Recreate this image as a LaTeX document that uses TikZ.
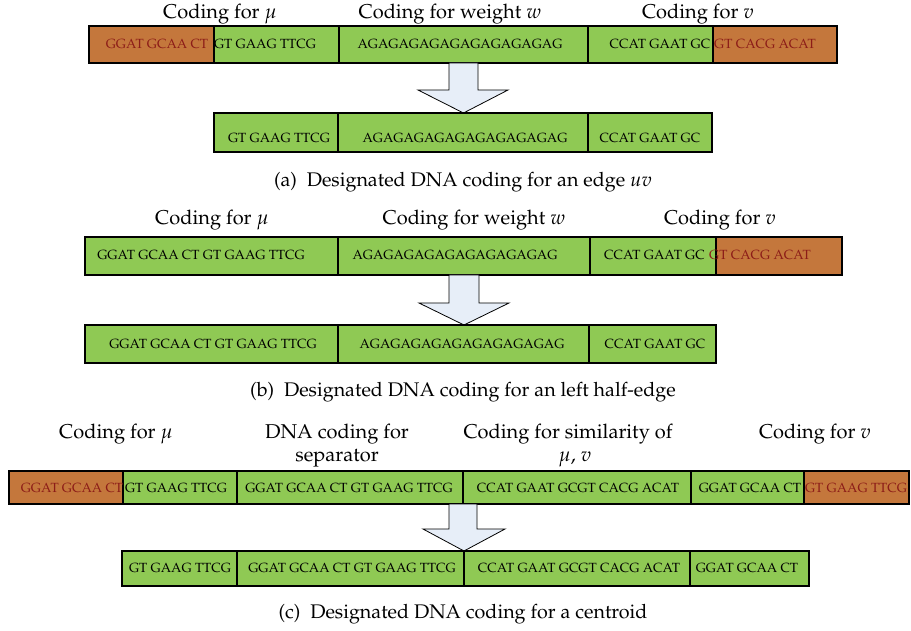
\documentclass[tikz,border=0pt]{standalone}
\usepackage[T1]{fontenc}
\usepackage{mathpazo}
\definecolor{segGreen}{RGB}{143,201,84}
\definecolor{segBrown}{RGB}{196,119,60}
\definecolor{segRed}{RGB}{140,28,24}
\definecolor{arrowFill}{RGB}{231,238,248}
\tikzset{
  seg/.style={draw=black, line width=1.1pt, inner sep=0pt, outer sep=0pt},
  gseg/.style={seg, fill=segGreen},
  bseg/.style={seg, fill=segBrown},
  seqtxt/.style={inner sep=0pt, font=\fontsize{13.3}{15}\selectfont, text=black},
  redtxt/.style={seqtxt, text=segRed},
  lbl/.style={inner sep=0pt, anchor=base, font=\fontsize{20}{23}\selectfont, align=center},
  captxt/.style={inner sep=0pt, anchor=base, font=\fontsize{19.7}{23}\selectfont},
  blockarrow/.style={draw=black, line width=0.8pt, fill=arrowFill, line join=miter}
}
\newcommand{\segbox}[7]{%
  \node[#1, minimum width={#4-#3}, minimum height={#6-#5}] (#2) at ({(#3+#4)/2},{(#5+#6)/2}) {};}
\begin{document}
\begin{tikzpicture}[x=1pt,y=-1pt]
\useasboundingbox (0,0) rectangle (911,631);

% ---------------- (a) ----------------
\node[lbl] (la1) at (220,18.5) {Coding for $\mu$};
\node[lbl] (la2) at (450,18.5) {Coding for weight $w$};
\node[lbl] (la3) at (698,18.5) {Coding for $v$};

\segbox{gseg}{a2}{214}{339}{26}{63}{}
\segbox{gseg}{a3}{339}{588}{26}{63}{}
\segbox{gseg}{a4}{588}{713}{26}{63}{}
\segbox{bseg}{a1}{89}{214}{26}{63}{}
\segbox{bseg}{a5}{713}{837}{26}{63}{}
\node[redtxt] (ta1) at (157,44.5) {GGAT GCAA CT};
\node[seqtxt] (ta2) at (265,44.5) {GT GAAG TTCG};
\node[seqtxt] (ta3) at (460,44.5) {AGAGAGAGAGAGAGAGAGAG};
\node[seqtxt] (ta4) at (660,44.5) {CCAT GAAT GC};
\node[redtxt] (ta5) at (765,44.5) {GT CACG ACAT};

\draw[blockarrow] (449,63) -- (478,63) -- (478,90) -- (508,90) -- (463.5,113) -- (418,90) -- (449,90) -- cycle;

\segbox{gseg}{a6}{214}{338}{113}{152}{}
\segbox{gseg}{a7}{338}{588}{113}{152}{}
\segbox{gseg}{a8}{588}{712}{113}{152}{}
\node[seqtxt] (ta6) at (279,138) {GT GAAG TTCG};
\node[seqtxt] (ta7) at (465,138) {AGAGAGAGAGAGAGAGAGAG};
\node[seqtxt] (ta8) at (650,138) {CCAT GAAT GC};

\node[captxt] (capa) at (463,187) {(a)\enspace Designated DNA coding for an edge $uv$};

% ---------------- (b) ----------------
\node[lbl] (lb1) at (212,225) {Coding for $\mu$};
\node[lbl] (lb2) at (474,225) {Coding for weight $w$};
\node[lbl] (lb3) at (720,225) {Coding for $v$};

\segbox{gseg}{b1}{85}{338}{237}{275}{}
\segbox{gseg}{b2}{338}{590}{237}{275}{}
\segbox{gseg}{b3}{590}{716}{237}{275}{}
\segbox{bseg}{b4}{716}{842}{237}{275}{}
\node[seqtxt] (tb1) at (201,255.5) {GGAT GCAA CT GT GAAG TTCG};
\node[seqtxt] (tb2) at (455,255.5) {AGAGAGAGAGAGAGAGAGAG};
\node[seqtxt, anchor=west] (tb3) at (604,255.5) {CCAT GAAT GC};
\node[redtxt, anchor=west] (tb4) at (709,255.5) {GT CACG ACAT};

\draw[blockarrow] (449,275) -- (479,275) -- (479,303) -- (509,303) -- (464,325) -- (419,303) -- (449,303) -- cycle;

\segbox{gseg}{b5}{85}{338}{325}{363}{}
\segbox{gseg}{b6}{338}{589}{325}{363}{}
\segbox{gseg}{b7}{589}{716}{325}{363}{}
\node[seqtxt] (tb5) at (213,344) {GGAT GCAA CT GT GAAG TTCG};
\node[seqtxt] (tb6) at (462,344) {AGAGAGAGAGAGAGAGAGAG};
\node[seqtxt] (tb7) at (655,344) {CCAT GAAT GC};

\node[captxt] (capb) at (463,396) {(b)\enspace Designated DNA coding for an left half-edge};

% ---------------- (c) ----------------
\node[lbl] (lc1) at (116,438) {Coding for $\mu$};
\node[lbl] (lc2) at (337,438) {DNA coding for};
\node[lbl] (lc2b) at (337,461) {separator};
\node[lbl] (lc3) at (568,438) {Coding for similarity of};
\node[lbl] (lc3b) at (575,461) {$\mu$, $v$};
\node[lbl] (lc4) at (815,438) {Coding for $v$};

\segbox{gseg}{c2}{123}{237}{471}{504}{}
\segbox{gseg}{c3}{237}{463}{471}{504}{}
\segbox{gseg}{c4}{463}{691}{471}{504}{}
\segbox{gseg}{c5}{691}{804}{471}{504}{}
\segbox{bseg}{c1}{9}{123}{471}{504}{}
\segbox{bseg}{c6}{804}{909}{471}{504}{}
\node[redtxt] (tc1) at (72,488) {GGAT GCAA CT};
\node[seqtxt] (tc2) at (176,488) {GT GAAG TTCG};
\node[seqtxt] (tc3) at (349,488) {GGAT GCAA CT GT GAAG TTCG};
\node[seqtxt] (tc4) at (578,488) {CCAT GAAT GCGT CACG ACAT};
\node[seqtxt] (tc5) at (750,488) {GGAT GCAA CT};
\node[redtxt] (tc6) at (856,488) {GT GAAG TTCG};

\draw[blockarrow] (449,504) -- (477,504) -- (477,529) -- (505,529) -- (464,551) -- (423,529) -- (449,529) -- cycle;

\segbox{gseg}{c7}{122}{237}{551}{586}{}
\segbox{gseg}{c8}{237}{464}{551}{586}{}
\segbox{gseg}{c9}{464}{690}{551}{586}{}
\segbox{gseg}{c10}{690}{809}{551}{586}{}
\node[seqtxt] (tc7) at (180,568.5) {GT GAAG TTCG};
\node[seqtxt] (tc8) at (352,568.5) {GGAT GCAA CT GT GAAG TTCG};
\node[seqtxt] (tc9) at (579,568.5) {CCAT GAAT GCGT CACG ACAT};
\node[seqtxt] (tc10) at (747,568.5) {GGAT GCAA CT};

\node[captxt] (capc) at (463,618) {(c)\enspace Designated DNA coding for a centroid};
\end{tikzpicture}
\end{document}
